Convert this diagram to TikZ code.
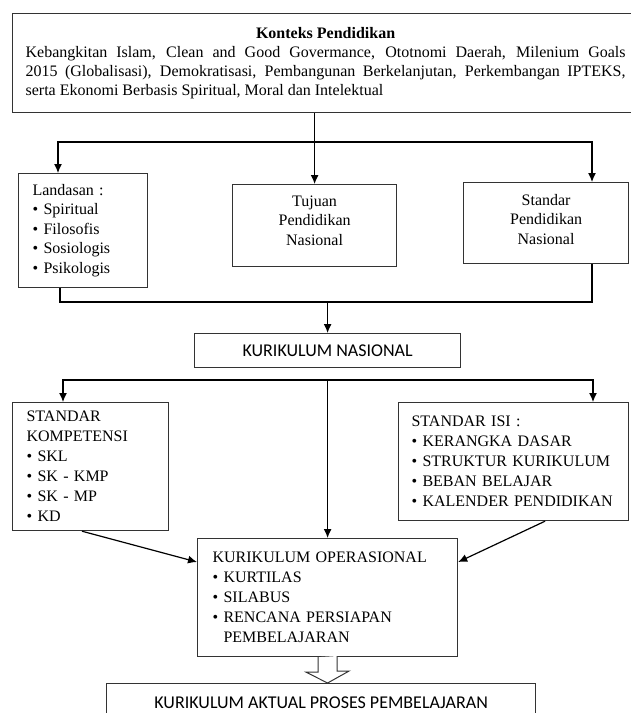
\documentclass[tikz,border=0pt]{standalone}
\usepackage{fontspec}
\setmainfont{Liberation Serif}
\newfontfamily\calibri{Carlito}
\usepackage{tikz}
\usetikzlibrary{positioning}
\usetikzlibrary{calc}
\usetikzlibrary{arrows.meta}

\begin{document}
\begin{tikzpicture}[x=1pt, y=-1pt, line width=1.2pt, >={Latex[length=9pt, width=8pt]},
        box/.style={draw=black!80, anchor=north west, inner ysep=0pt},
        serif/.style={font=\fontsize{16}{19.5}\selectfont},
        sans/.style={font=\calibri\fontsize{18}{21}\selectfont}]
        \useasboundingbox (0,0) rectangle (630,713);

        \node(ctx) [box, minimum width=626pt, minimum height=99pt, inner xsep=13pt, text width=600pt, align=justify, font=\fontsize{16}{18.7}\selectfont] at (12,13)
            {{\centering\bfseries Konteks Pendidikan\par}
            Kebangkitan Islam, Clean and Good Govermance, Ototnomi Daerah, Milenium Goals\linebreak
            2015 (Globalisasi), Demokratisasi, Pembangunan Berkelanjutan, Perkembangan IPTEKS,\linebreak
            serta Ekonomi Berbasis Spiritual, Moral dan Intelektual};

        \node(landasan) [box, serif, minimum width=129pt, minimum height=114pt, inner xsep=14pt, text width=101pt, align=left] at (18,173)
            {Landasan :\\ \textbullet~Spiritual\\ \textbullet~Filosofis\\ \textbullet~Sosiologis\\ \textbullet~Psikologis};
        \node(tujuan) [box, serif, minimum width=164pt, minimum height=82pt, inner xsep=7pt, text width=150pt, align=center] at (232,184)
            {Tujuan\\ Pendidikan\\ Nasional\rule[-10pt]{0pt}{0pt}};
        \node(standar) [box, serif, minimum width=165pt, minimum height=81pt, inner xsep=7pt, text width=151pt, align=center] at (463,182)
            {Standar\\ Pendidikan\\ Nasional\rule[-8pt]{0pt}{0pt}};

        \node(kn) [box, sans, minimum width=266pt, minimum height=34pt] at (194,333) {KURIKULUM NASIONAL};

        \node(sk) [box, serif, font=\fontsize{16}{20}\selectfont, minimum width=156pt, minimum height=128pt, inner xsep=14pt, text width=128pt, align=left] at (12,402)
            {STANDAR\\ KOMPETENSI\\ \textbullet~SKL\\ \textbullet~SK - KMP\\ \textbullet~SK - MP\\ \textbullet~KD};
        \node(isi) [box, serif, font=\fontsize{16}{20}\selectfont, minimum width=230pt, minimum height=118pt, inner xsep=13pt, text width=204pt, align=left] at (398,402)
            {STANDAR ISI :\\ \textbullet~KERANGKA DASAR\\ \textbullet~STRUKTUR KURIKULUM\\ \textbullet~BEBAN BELAJAR\\ \textbullet~KALENDER PENDIDIKAN};

        \node(ko) [box, serif, font=\fontsize{16}{20}\selectfont, minimum width=260pt, minimum height=118pt, inner xsep=15pt, text width=230pt, align=left] at (197,538)
            {KURIKULUM OPERASIONAL\\ \textbullet~KURTILAS\\ \textbullet~SILABUS\\ \textbullet~RENCANA PERSIAPAN\\ \hphantom{\textbullet~}PEMBELAJARAN};

        \node(aktual) [box, sans, minimum width=429pt, minimum height=38pt] at (106,683) {KURIKULUM AKTUAL PROSES PEMBELAJARAN};

        % from the context down to the three boxes
        \coordinate(s1) at (58,142);
        \coordinate(s2) at (592,142);
        \draw[<->] (s1 |- landasan.north) -- (s1) -- (s2) -- (s2 |- standar.north);
        \draw[->] (ctx.south -| tujuan.north) -- (tujuan.north);

        % joined into the national curriculum
        \coordinate(j1) at (60,302);
        \coordinate(j2) at (592,302);
        \draw (landasan.south -| j1) -- (j1) -- (j2) -- (standar.south -| j2);
        \draw[->] (j1 -| kn.north) -- (kn.north);

        % standards
        \coordinate(k1) at (63,380);
        \coordinate(k2) at (593,380);
        \draw[<->] (k1 |- sk.north) -- (k1) -- (k2) -- (k2 |- isi.north);
        \draw[->] (k1 -| ko.north) -- (ko.north);

        \draw[->] ($(sk.south west)+(70,0)$) -- ($(ko.north west)+(0,24)$);
        \draw[->] ($(isi.south west)+(147,0)$) -- ($(ko.north east)+(0,24)$);

        % hollow arrow
        \draw[draw=black!80, fill=white, line width=1pt] ($(ko.south)+(-9.5,0)$) -- ++(0,15) -- ++(-12,0) -- (ko.south |- aktual.north) -- ++(21.5,-12) -- ++(-12,0) -- ++(0,-15);
    \end{tikzpicture}
\end{document}
